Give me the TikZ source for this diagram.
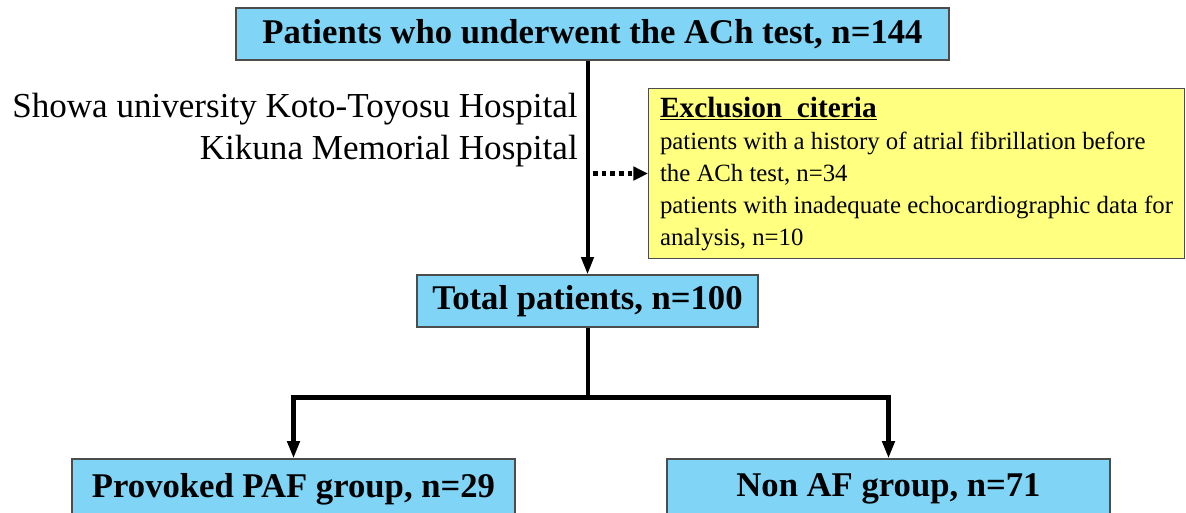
\documentclass[tikz,border=0pt]{standalone}
\usepackage{fontspec}
\setmainfont{Liberation Serif}
\usetikzlibrary{positioning,arrows.meta}
\definecolor{boxblue}{RGB}{128,212,246}
\definecolor{boxyellow}{RGB}{255,255,128}

\begin{document}
\begin{tikzpicture}[x=0.75pt, y=-0.75pt,
  bluebox/.style={draw=black!70, fill=boxblue, line width=0.8pt, inner sep=0pt,
    font=\fontsize{26}{30}\selectfont\bfseries},
  flow/.style={line width=3pt, -{Triangle[width=9pt,length=13pt]}},
  dotflow/.style={line width=3.5pt, dash pattern=on 3.5pt off 3pt, -{Triangle[width=10pt,length=11pt]}}]
\useasboundingbox (0,0) rectangle (1186,513);

\node[bluebox, minimum width=534.75pt, minimum height=39pt] (all) at (592.5,34) {Patients who underwent the ACh test, n=144};
\node[bluebox, minimum width=255.75pt, minimum height=39pt] (total) at (587.5,301) {Total patients, n=100};
\node[bluebox, minimum width=332.25pt, minimum height=45pt] (paf) at (293.5,489) {Provoked PAF group, n=29};
\node[bluebox, minimum width=332.25pt, minimum height=45pt] (non) at (888.5,489) {Non AF group, n=71};

% exclusion box
\node[draw=black!70, fill=boxyellow, line width=0.8pt, anchor=north west, inner xsep=6.5pt, inner ysep=0pt,
  minimum width=402pt, minimum height=127.5pt, align=left, font=\fontsize{18.6}{24}\selectfont] (excl) at (648,88)
  {{\fontsize{22}{26}\selectfont\bfseries\underline{Exclusion\ \ citeria}}\\
   patients with a history of atrial fibrillation before\\
   the ACh test, n=34\\
   patients with inadequate echocardiographic data for\\
   analysis, n=10};

\node[anchor=east, align=right, inner sep=0pt, font=\fontsize{26.3}{32}\selectfont] (site) at (578,130)
  {Showa university Koto-Toyosu Hospital\\Kikuna Memorial Hospital};

\draw[flow] (all.south -| total.north) -- (total.north);
\draw[dotflow] ([xshift=4pt]total.north |- excl.west) -- (excl.west);

\coordinate[below=52.5pt of total.south] (split);
\draw[line width=3pt] (total.south) -- (split);
\draw[flow, line width=3.5pt] (split) -| (paf.north);
\draw[flow, line width=3.5pt] (split) -| (non.north);

\end{tikzpicture}
\end{document}
